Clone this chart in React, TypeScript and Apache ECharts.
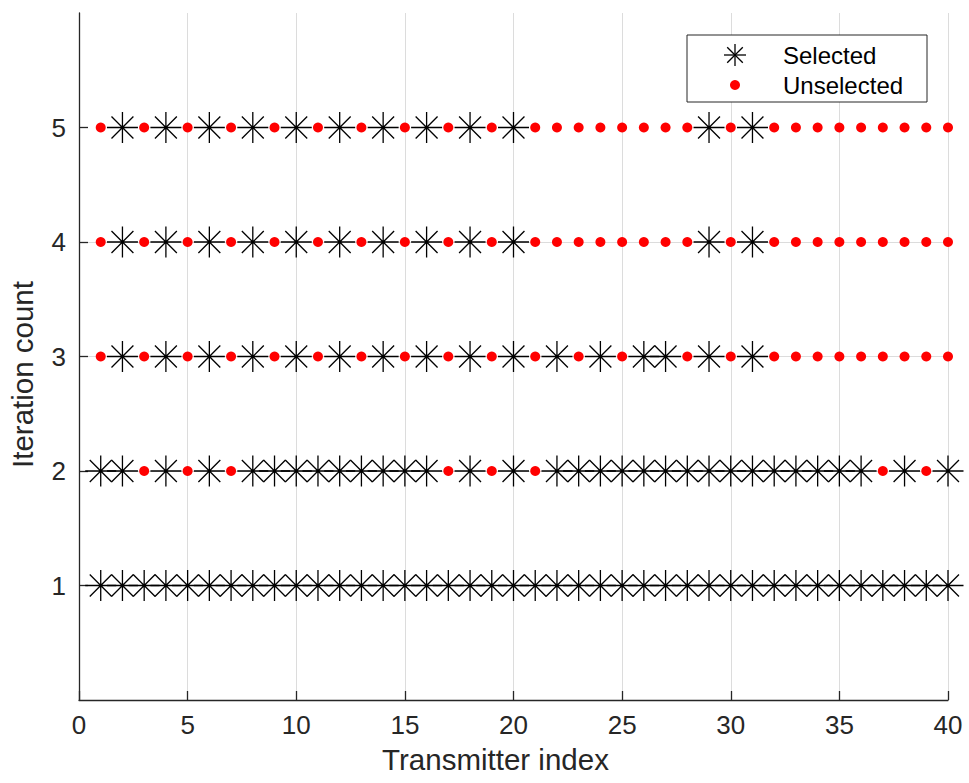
import { useEffect, useRef } from "react";
import * as echarts from "echarts";

const transmitterIndex = [
  1, 2, 3, 4, 5, 6, 7, 8, 9, 10, 11, 12, 13, 14, 15, 16, 17, 18, 19, 20,
  21, 22, 23, 24, 25, 26, 27, 28, 29, 30, 31, 32, 33, 34, 35, 36, 37, 38, 39, 40,
];
const iterationLevels = [1, 2, 3, 4, 5];
const selectedIter1 = [
  1, 2, 3, 4, 5, 6, 7, 8, 9, 10, 11, 12, 13, 14, 15, 16, 17, 18, 19, 20,
  21, 22, 23, 24, 25, 26, 27, 28, 29, 30, 31, 32, 33, 34, 35, 36, 37, 38, 39, 40,
];
const selectedIter2 = [
  1, 2, 4, 6, 8, 9, 10, 11, 12, 13, 14, 15, 16, 18, 20, 22, 23, 24, 25, 26,
  27, 28, 29, 30, 31, 32, 33, 34, 35, 36, 38, 40,
];
const selectedIter3 = [2, 4, 6, 8, 10, 12, 14, 16, 18, 20, 22, 24, 26, 27, 29, 31];
const selectedIter4 = [2, 4, 6, 8, 10, 12, 14, 16, 18, 20, 29, 31];
const selectedIter5 = [2, 4, 6, 8, 10, 12, 14, 16, 18, 20, 29, 31];
const selectedByIteration = [selectedIter1, selectedIter2, selectedIter3, selectedIter4, selectedIter5];
const yTickValues = [1, 2, 3, 4, 5];

const FONT = "'Liberation Sans', Arial, Helvetica, sans-serif";
const ASTERISK =
  "path://M10,0L10,20M0,10L20,10M2.929,2.929L17.071,17.071M2.929,17.071L17.071,2.929";

export default function App() {
  const ref = useRef<HTMLDivElement>(null);
  useEffect(() => {
    if (!ref.current) return;
    const chart = echarts.init(ref.current, null, { renderer: "svg" });

    const selectedData: number[][] = [];
    const unselectedData: number[][] = [];
    iterationLevels.forEach((it, i) => {
      const sel = selectedByIteration[i];
      transmitterIndex.forEach((tx) => {
        if (sel.includes(tx)) selectedData.push([tx, it]);
        else unselectedData.push([tx, it]);
      });
    });

    const axisColor = "#262626";
    const gridColor = "#dcdcdc";

    const lx = 735;
    const ly = 55;
    const r = 11;
    const d = r * 0.7071;

    chart.setOption({
      animation: false,
      grid: { left: 79, right: 21, top: 13, bottom: 83, containLabel: false, outerBoundsMode: "none" },
      xAxis: {
        type: "value",
        min: 0,
        max: 40,
        interval: 5,
        name: "Transmitter index",
        nameLocation: "middle",
        nameGap: 44,
        nameTextStyle: { fontFamily: FONT, fontSize: 29.5, color: axisColor, padding: [0, 36, 0, 0] },
        axisLine: { show: true, lineStyle: { color: axisColor, width: 1.3 } },
        axisTick: { show: true, inside: true, length: 9, lineStyle: { color: axisColor, width: 1.3 } },
        axisLabel: { fontFamily: FONT, fontSize: 26, color: axisColor, margin: 12 },
        splitLine: { show: true, showMinLine: false, lineStyle: { color: gridColor, width: 1 } },
      },
      yAxis: {
        type: "value",
        min: 0,
        max: 6,
        interval: 1,
        name: "Iteration count",
        nameLocation: "middle",
        nameGap: 42,
        nameTextStyle: { fontFamily: FONT, fontSize: 29.5, color: axisColor, padding: [0, 36, 0, 0] },
        axisLine: { show: true, lineStyle: { color: axisColor, width: 1.3 } },
        axisTick: {
          show: true,
          inside: true,
          length: 9,
          customValues: yTickValues,
          lineStyle: { color: axisColor, width: 1.3 },
        },
        axisLabel: {
          fontFamily: FONT,
          fontSize: 26,
          color: axisColor,
          margin: 13,
          customValues: yTickValues,
        },
        splitLine: {
          show: true,
          showMinLine: false,
          showMaxLine: false,
          lineStyle: { color: gridColor, width: 1 },
        },
      },
      series: [
        {
          name: "Selected",
          type: "scatter",
          data: selectedData,
          symbol: ASTERISK,
          symbolSize: 31,
          silent: true,
          itemStyle: { color: "rgba(0,0,0,0)", borderColor: "#000", borderWidth: 1.3, opacity: 1 },
          z: 3,
        },
        {
          name: "Unselected",
          type: "scatter",
          data: unselectedData,
          symbol: "circle",
          symbolSize: 10,
          silent: true,
          itemStyle: { color: "#ff0000", borderWidth: 0, opacity: 1 },
          z: 4,
        },
      ],
      graphic: [
        {
          type: "group",
          z: 100,
          children: [
            {
              type: "rect",
              shape: { x: 687, y: 35, width: 240, height: 67 },
              style: { fill: "#fff", stroke: axisColor, lineWidth: 1 },
              z: 100,
            },
            { type: "line", shape: { x1: lx, y1: ly - r, x2: lx, y2: ly + r }, style: { stroke: "#000", lineWidth: 1.3 }, z: 101 },
            { type: "line", shape: { x1: lx - r, y1: ly, x2: lx + r, y2: ly }, style: { stroke: "#000", lineWidth: 1.3 }, z: 101 },
            { type: "line", shape: { x1: lx - d, y1: ly - d, x2: lx + d, y2: ly + d }, style: { stroke: "#000", lineWidth: 1.3 }, z: 101 },
            { type: "line", shape: { x1: lx - d, y1: ly + d, x2: lx + d, y2: ly - d }, style: { stroke: "#000", lineWidth: 1.3 }, z: 101 },
            { type: "circle", shape: { cx: lx, cy: 85, r: 5 }, style: { fill: "#ff0000" }, z: 101 },
            {
              type: "text",
              x: 783,
              y: 55,
              style: { text: "Selected", fontFamily: FONT, fontSize: 24, fill: "#000", verticalAlign: "middle" },
              z: 101,
            },
            {
              type: "text",
              x: 783,
              y: 85,
              style: { text: "Unselected", fontFamily: FONT, fontSize: 24, fill: "#000", verticalAlign: "middle" },
              z: 101,
            },
          ],
        },
      ],
    });
    return () => chart.dispose();
  }, []);
  return (
    <div
      ref={ref}
      style={{ position: "fixed", left: 0, top: 0, width: 969, height: 783, background: "#fff" }}
    />
  );
}
